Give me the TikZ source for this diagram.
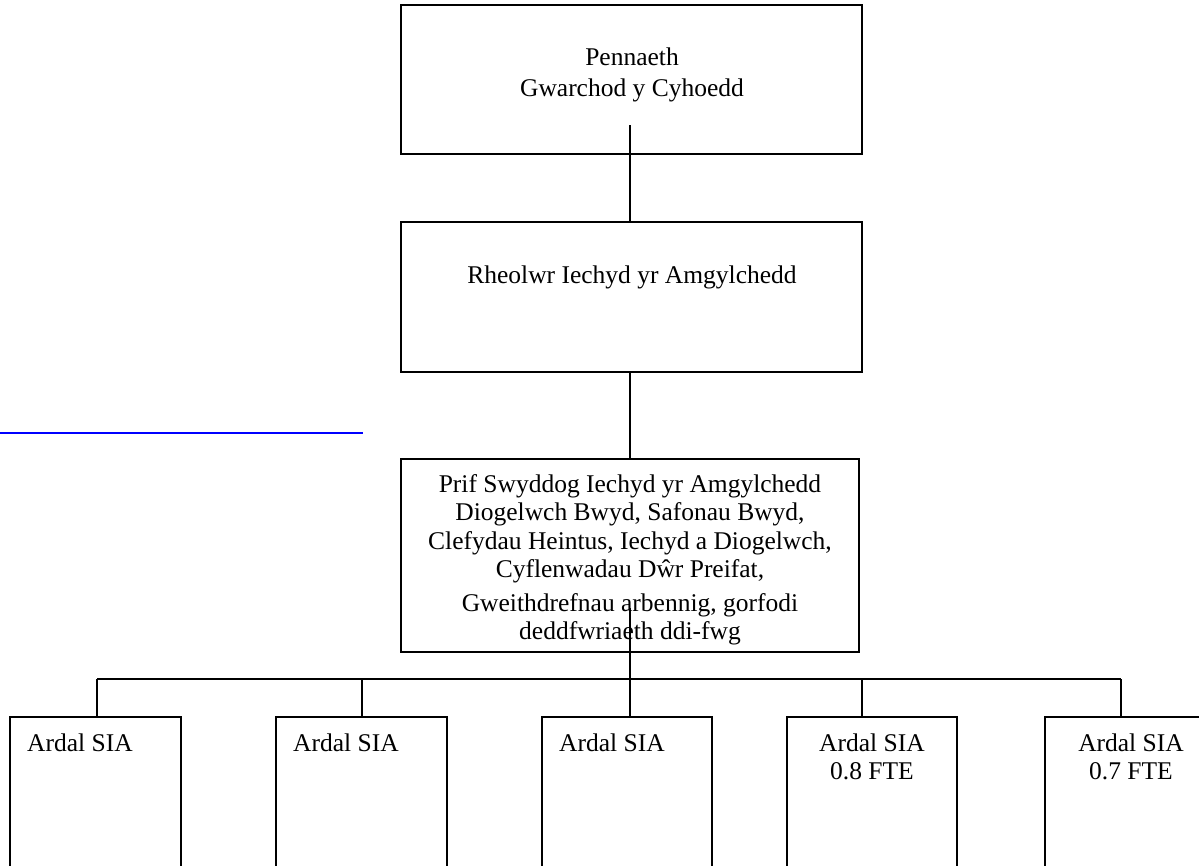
\documentclass[tikz,border=0pt]{standalone}
\usepackage{fontspec}
\setmainfont{Liberation Serif}
\definecolor{linkblue}{RGB}{0,0,255}
\newcommand{\stacklines}[1]{\begin{tabular}[t]{@{}c@{}}#1\end{tabular}}
\begin{document}
\begin{tikzpicture}[x=1pt,y=-1pt,
  box/.style={draw, line width=1.3pt, rectangle, inner sep=0pt},
  txt/.style={inner sep=0pt, font=\fontsize{25.5}{28.5}\selectfont},
  link/.style={line width=1.3pt},
  blueline/.style={line width=2.7pt, draw=linkblue}]
\useasboundingbox (0,0) rectangle (1199,865);
\clip (0,0) rectangle (1199,865);

% top boxes
\node[box, minimum width=461pt, minimum height=149pt] (head) at (631.5,79.5) {};
\node[txt, anchor=base] (headT) at (632,65) {\stacklines{Pennaeth\\[2.5pt]Gwarchod y Cyhoedd}};

\node[box, minimum width=461pt, minimum height=150pt] (mgr) at (631.5,297) {};
\node[txt, anchor=base] (mgrT) at (632,283) {Rheolwr Iechyd yr Amgylchedd};

\node[box, minimum width=458pt, minimum height=193pt] (chief) at (630,555.5) {};
\node[txt, anchor=base] (chiefT) at (630,492) {\stacklines{Prif Swyddog Iechyd yr Amgylchedd\\Diogelwch Bwyd, Safonau Bwyd,\\Clefydau Heintus, Iechyd a Diogelwch,\\Cyflenwadau Dŵr Preifat,\\[5pt]Gweithdrefnau arbennig, gorfodi\\deddfwriaeth ddi-fwg}};

% bottom boxes
\node[box, minimum width=171pt, minimum height=170pt] (a1) at (95.5,802) {};
\node[box, minimum width=171pt, minimum height=170pt] (a2) at (361.5,802) {};
\node[box, minimum width=170pt, minimum height=170pt] (a3) at (627,802) {};
\node[box, minimum width=170pt, minimum height=170pt] (a4) at (872,802) {};
\node[box, minimum width=170pt, minimum height=170pt] (a5) at (1130,802) {};

\node[txt, anchor=base west] (a1T) at (27,751) {Ardal SIA};
\node[txt, anchor=base west] (a2T) at (293,751) {Ardal SIA};
\node[txt, anchor=base west] (a3T) at (559,751) {Ardal SIA};
\node[txt, anchor=base] (a4T) at (872,751) {\stacklines{Ardal SIA\\0.8 FTE}};
\node[txt, anchor=base] (a5T) at (1131,751) {\stacklines{Ardal SIA\\0.7 FTE}};

% connectors
\coordinate (hIn) at (630,125);
\coordinate (cIn) at (630,608);
\coordinate (d1) at (97,679);
\coordinate (d2) at (362,679);
\coordinate (d3) at (630,679);
\coordinate (d4) at (862,679);
\coordinate (d5) at (1121,679);

\draw[link] (hIn) -- (hIn |- mgr.north);
\draw[link] (mgr.south -| hIn) -- (chief.north -| hIn);
\draw[link] (cIn) -- (cIn |- a3.north);
\draw[link] (d1) -- (d5);
\draw[link] (d1) -- (d1 |- a1.north);
\draw[link] (d2) -- (d2 |- a2.north);
\draw[link] (d4) -- (d4 |- a4.north);
\draw[link] (d5) -- (d5 |- a5.north);

% blue rule
\coordinate (b0) at (0,433);
\coordinate (b1) at (363,433);
\draw[blueline] (b0) -- (b1);
\end{tikzpicture}
\end{document}
